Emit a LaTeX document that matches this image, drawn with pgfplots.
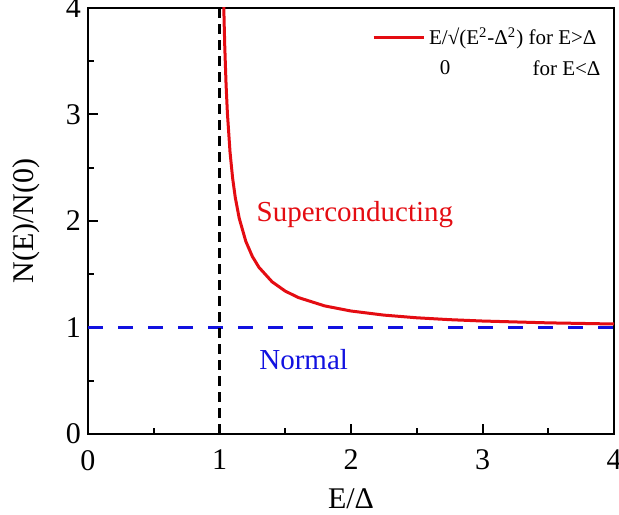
\documentclass[border=0pt]{standalone}
\usepackage{pgfplots}
\pgfplotsset{compat=1.18}
\usepackage{fontspec}
\setmainfont{Liberation Serif}

\definecolor{scred}{RGB}{228,12,18}
\definecolor{nblue}{RGB}{18,18,224}

\begin{document}
\begin{tikzpicture}
\begin{axis}[
  scale only axis,
  width=263pt, height=213pt,
  xmin=0, xmax=4, ymin=0, ymax=4,
  xtick={0,1,2,3,4}, ytick={0,1,2,3,4},
  minor tick num=1,
  tick pos=left,
  tick align=inside,
  major tick length=5pt,
  minor tick length=3pt,
  axis line style={line width=1pt},
  every tick/.style={black, line width=1pt},
  /pgf/number format/assume math mode=true,
  tick label style={font=\fontsize{15}{18}\selectfont},
  xticklabel style={yshift=-4.5pt},
  label style={font=\fontsize{15}{18}\selectfont},
  xlabel={E/Δ},
  ylabel={N(E)/N(0)},
  xlabel style={yshift=-2.5pt},
  ylabel style={yshift=6pt},
  legend style={draw=none, fill=none, font=\fontsize{10.5}{12.5}\selectfont,
    at={(axis description cs:0.975,0.965)}, anchor=north east,
    inner sep=0pt, row sep=0pt},
  legend cell align=left,
  legend image code/.code={\draw[#1] (0pt,0pt) -- (25pt,0pt);},
]
% BCS density of states, N(E)/N(0) = E/sqrt(E^2 - Delta^2) above the gap
\addplot[scred, line width=1.5pt] coordinates {
  (1.030,4.1738) (1.035,3.8781) (1.040,3.6407) (1.050,3.2796)
  (1.060,3.0151) (1.080,2.6476) (1.100,2.4004) (1.120,2.2206)
  (1.150,2.0250) (1.200,1.8091) (1.250,1.6667) (1.300,1.5650)
  (1.400,1.4289) (1.500,1.3416) (1.600,1.2810) (1.800,1.2027)
  (2.000,1.1547) (2.250,1.1163) (2.500,1.0911) (2.750,1.0735)
  (3.000,1.0607) (3.500,1.0435) (4.000,1.0328)
};
\addlegendentry{E/√(E\textsuperscript{2}-Δ\textsuperscript{2}) for E>Δ}
% normal metal: constant density of states
\addplot[nblue, line width=1.6pt, dash pattern=on 7.5pt off 7.5pt, forget plot]
  coordinates {(0,1) (4,1)};
% gap edge
\addplot[black, line width=1.2pt, dash pattern=on 5pt off 3pt, forget plot]
  coordinates {(1,0) (1,4)};

\node[font=\fontsize{10.5}{12.5}\selectfont] at (axis description cs:0.679,0.859) {0};
\node[font=\fontsize{10.5}{12.5}\selectfont, anchor=east, inner sep=0pt]
  at (axis description cs:0.975,0.859) {for E<Δ};
\node[scred, font=\fontsize{14.5}{17}\selectfont] at (axis cs:2.03,2.06) {Superconducting};
\node[nblue, font=\fontsize{14.5}{17}\selectfont] at (axis cs:1.64,0.695) {Normal};

\coordinate (bl) at (rel axis cs:0,0);
\coordinate (tr) at (rel axis cs:1,1);
\end{axis}
\pgfresetboundingbox
\path ([shift={(-44pt,-40.5pt)}]bl) rectangle ([shift={(2.5pt,4pt)}]tr);
\end{tikzpicture}
\end{document}
